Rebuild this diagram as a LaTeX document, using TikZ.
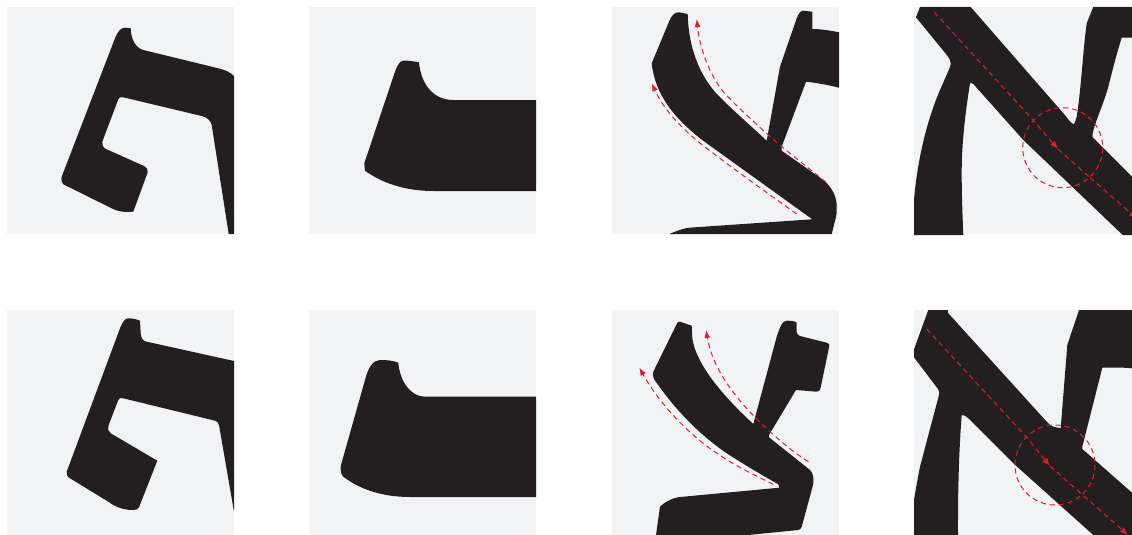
\documentclass[tikz,border=0pt]{standalone}
\usetikzlibrary{arrows.meta}
\definecolor{panelbg}{HTML}{F1F3F5}
\definecolor{ink}{HTML}{231F20}
\definecolor{guide}{HTML}{DF1F2D}
\tikzset{
  panel/.style={fill=panelbg,draw=none},
  glyph/.style={fill=ink,draw=none},
  guideline/.style={draw=guide,line width=1pt,dash pattern=on 5.2pt off 3.8pt},
  guidetip/.style={-{Latex[length=8pt,width=6pt]}},
}
\begin{document}
\begin{tikzpicture}[x=1pt,y=-1pt]
\useasboundingbox (0,0) rectangle (1132,535);
% panels
\foreach \x in {7,309,612,914}{
  \fill[panel] (\x,7) rectangle ++(227,227);
  \fill[panel] (\x,310) rectangle ++(227,225);
}
% glyph 1 top
\fill[glyph] (115,38.3) .. controls (118,31) and (121,27.7) .. (125,27.7)
  -- (130.7,28.3) .. controls (131,40) and (136,48) .. (143.3,50)
  -- (218.3,68.3) .. controls (225,70) and (230,72) .. (234,76)
  -- (234,234) -- (228.7,234) -- (211.7,125)
  .. controls (210.5,120) and (207,117.5) .. (201.7,116)
  -- (123.3,97.3) .. controls (120.5,96.7) and (119,97.5) .. (118.3,99.3)
  -- (102.3,141.7) .. controls (101.7,144.5) and (103,147.5) .. (106,149)
  -- (143.3,165.7) .. controls (147,167.5) and (148.5,170) .. (147.7,172.3)
  -- (133.3,211.7) .. controls (125,212.5) and (117,211.5) .. (111.7,208.3)
  -- (63.3,184.3) .. controls (61.5,183) and (61,180) .. (61.7,176.7) -- cycle;
% glyph 1 bottom
\fill[glyph] (120,328.3) .. controls (122.5,322) and (125,318.3) .. (128.3,318.3)
  .. controls (132,318.3) and (136,319) .. (140,320.7)
  -- (140.7,333.3) .. controls (141,338) and (143,341) .. (146.7,341.7)
  -- (234,361) -- (234,511.7) -- (219,425)
  .. controls (218.5,422.5) and (217,421.3) .. (215,420.7)
  -- (123.3,398.3) .. controls (120.5,397.7) and (119,398) .. (118.3,400)
  -- (108.7,425) .. controls (107.5,429) and (108.5,432) .. (110.7,433.3)
  -- (157.3,460.7) -- (139,507.3) .. controls (137.5,509.5) and (136,510) .. (133,510)
  .. controls (122,510) and (114,506) .. (108.3,501.7)
  -- (70,478.3) .. controls (67,476.5) and (66,474) .. (66.7,471.7) -- cycle;
% glyph 2 top
\fill[glyph] (364.3,163.3) -- (393.3,76.7) .. controls (396,68) and (399,61) .. (403,60.7)
  .. controls (408,60.3) and (414,61.5) .. (419,62.3)
  .. controls (421,84) and (433,100) .. (453.3,100)
  -- (536,100) -- (536,191) -- (433.3,191)
  .. controls (405,191) and (382,183) .. (365,170.7) -- cycle;
% glyph 2 bottom
\fill[glyph] (341,465) -- (365,380) .. controls (368,368) and (373,360) .. (380,360)
  .. controls (387,360) and (393,360.5) .. (398.3,362.7)
  .. controls (400,382) and (411,396.7) .. (425,396.7)
  -- (536,396.7) -- (536,497) -- (410,497)
  .. controls (380,497) and (358,488) .. (343.3,476.7)
  .. controls (340.5,474) and (340.3,469) .. (341,465) -- cycle;
% glyph 3 top
\fill[glyph] (651.7,63.3) -- (669,21.7) .. controls (672,14.5) and (675,12.3) .. (679,12.3)
  -- (687.7,14) .. controls (688,32) and (692,65) .. (715,92)
  .. controls (730,108) and (750,125) .. (766.7,140.7)
  -- (780,66.7) -- (796.7,18.3) .. controls (798.5,14) and (800,11) .. (803,10.7)
  -- (812.3,11.7) -- (812.3,29) .. controls (820,29) and (830,30.5) .. (839,32.3)
  -- (839,87.7) .. controls (828,85) and (818,83) .. (806,81.7)
  -- (781.7,146.7) -- (781.7,150.7) -- (823.3,180)
  .. controls (832,187) and (837,197) .. (836.7,207)
  .. controls (836.7,212) and (836.7,214) .. (836,217)
  -- (831.7,234) -- (669.3,234) .. controls (677,231) and (683,228) .. (692,227.5)
  -- (812.3,219.3) -- (706.7,143.3)
  .. controls (675,120) and (655,95) .. (651.7,63.3) -- cycle;
% glyph 3 bottom
\fill[glyph] (653.3,371.7) -- (676.7,324) .. controls (677.5,322) and (678.5,321.5) .. (680,321.7)
  -- (691.7,325.7) -- (692.3,338.3) .. controls (696,365) and (725,398) .. (753.3,424)
  -- (776.7,336.7) .. controls (780,327) and (782,320.7) .. (787,320.7)
  .. controls (791,320.7) and (795,321) .. (796.7,322.7)
  -- (796.7,331.7) .. controls (797,334) and (798,335.5) .. (800,336)
  -- (826.7,342.7) .. controls (829,343.5) and (829.7,344.5) .. (829.3,346)
  -- (820.7,387.3) .. controls (820,390.5) and (818.5,391.7) .. (816.7,391.7)
  -- (796,390) -- (769,435) -- (769,437.3) -- (810,470)
  .. controls (813,473) and (814,478) .. (813.3,484)
  -- (801.7,526.7) .. controls (801,529) and (799.5,530) .. (798,530)
  -- (748,535) -- (656,535) -- (660,506.7)
  .. controls (666,501) and (674,497) .. (683.3,496.7)
  -- (779.3,487.7) -- (778.3,484.3) .. controls (760,474) and (745,465) .. (726.7,453.3)
  .. controls (700,435) and (675,410) .. (654,379)
  .. controls (652.5,376.5) and (652.5,374) .. (653.3,371.7) -- cycle;
% glyph 4 top
\fill[glyph] (916,17.3) -- (920,7) -- (970.7,7) -- (1065.7,116)
  .. controls (1068,119) and (1071,123.5) .. (1073.3,124)
  .. controls (1075,124) and (1075.5,120) .. (1076.7,116.7)
  .. controls (1081,90) and (1083,50) .. (1086.7,23.3)
  -- (1093.3,7) -- (1132,7) -- (1132,37.7) -- (1121.7,37.7)
  .. controls (1116,56) and (1112,72) .. (1108.3,86.7)
  .. controls (1105,100) and (1095,122) .. (1092.7,133.3)
  -- (1092.7,137.3) -- (1132,176.7) -- (1132,235) -- (1122.7,235)
  -- (1023.3,140) -- (973.3,84) .. controls (972,83) and (971,82.7) .. (970,83.3)
  .. controls (965,115) and (961.5,145) .. (961.7,175)
  .. controls (961.7,195) and (962.5,215) .. (963.3,235)
  -- (914,235) -- (914,200) .. controls (917,165) and (925,125) .. (940,90)
  .. controls (946,76) and (950,68) .. (950.5,65)
  .. controls (951,61) and (949.5,58.5) .. (946,54) -- cycle;
% glyph 4 bottom
\fill[glyph] (914,349.3) -- (928.3,310) -- (947.7,310) -- (948.3,313.3) -- (1046.7,421.7)
  .. controls (1049,424) and (1051,426) .. (1053.3,426.7)
  -- (1060.7,428.3) -- (1067.3,345) -- (1079,310) -- (1132,310) -- (1132,368.3)
  .. controls (1128,368) and (1126,367.7) .. (1123.3,367.7)
  -- (1102.3,367.7) -- (1082.3,446.7) -- (1082.3,449) -- (1132,492.7) -- (1132,535)
  -- (1093.3,535) -- (1013.3,463.3) -- (968.3,418.3)
  .. controls (966,416) and (964,415) .. (961.7,415)
  .. controls (959,450) and (957.8,490) .. (958,535)
  -- (914,535) -- (914,500) .. controls (916,488) and (918,477) .. (920,466.7)
  -- (939,395) .. controls (939.5,392) and (939,390.5) .. (938,389)
  -- (914,357.3) -- cycle;
% guides panel 3 top
\coordinate (a1) at (796.7,214);
\coordinate (a2) at (651.7,83.3);
\coordinate (b1) at (826,182.3);
\coordinate (b2) at (696.7,19);
\draw[guideline,guidetip] (a1) .. controls (770,195) and (735,170) .. (706.7,148.3)
  .. controls (680,128) and (663,108) .. (a2);
\draw[guideline,guidetip] (b1) .. controls (805,165) and (785,150) .. (768.3,135)
  .. controls (750,118) and (735,105) .. (723.3,91.7)
  .. controls (710,75) and (700,50) .. (b2);
% guides panel 3 bottom
\coordinate (c1) at (773.3,484.3);
\coordinate (c2) at (639.3,367.5);
\coordinate (d1) at (808.3,461.7);
\coordinate (d2) at (706,330);
\draw[guideline,guidetip] (c1) .. controls (750,473) and (730,463) .. (713.3,450.7)
  .. controls (690,435) and (660,405) .. (c2);
\draw[guideline,guidetip] (d1) .. controls (790,450) and (773,435) .. (756.7,419)
  .. controls (730,392) and (712,365) .. (d2);
% guides panel 4 top
\coordinate (e1) at (934.3,12.3);
\coordinate (e2) at (1058,149);
\coordinate (e3) at (1137,218.5);
\coordinate (k1) at (1062.7,147.7);
\draw[guideline,guidetip] (e1) -- (1030,116.7) -- (e2);
\draw[guideline] (e2) -- (1090,177.7);
\draw[guideline,guidetip] (1090,177.7) -- (e3);
\draw[guideline] (k1) circle (40);
% guides panel 4 bottom
\coordinate (f1) at (926.7,329);
\coordinate (f2) at (1050,466);
\coordinate (f3) at (1128,535);
\coordinate (k2) at (1055,465);
\draw[guideline,guidetip] (f1) -- (1026.7,437.3) -- (f2);
\draw[guideline,guidetip] (f2) -- (f3);
\draw[guideline] (k2) circle (40);
\end{tikzpicture}
\end{document}
